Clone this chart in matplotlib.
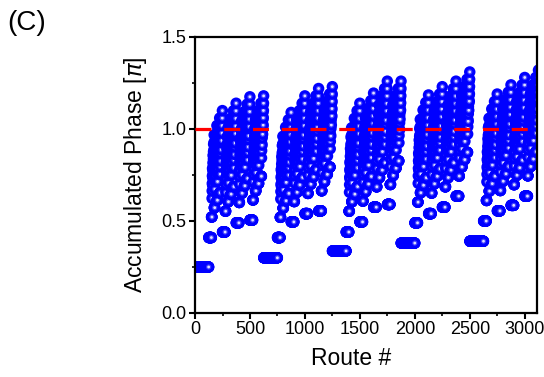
import numpy as np
import matplotlib.pyplot as plt
from matplotlib.ticker import MultipleLocator, FormatStrFormatter

plt.rcParams['font.family'] = ['Liberation Sans', 'DejaVu Sans']

# 5 групп по 625 маршрутов (5^5 = 3125)
n_groups = 5
group_size = 625
# плоский участок в начале каждой группы
flat_phase = [0.25, 0.30, 0.337, 0.38, 0.39]
# нижняя точка каждой подгруппы (4 подгруппы в группе)
low_phase = [[0.41, 0.44, 0.49, 0.505],
             [0.41, 0.495, 0.54, 0.555],
             [0.44, 0.495, 0.575, 0.59],
             [0.49, 0.54, 0.575, 0.635],
             [0.50, 0.555, 0.585, 0.635]]
# верх каждой подгруппы
top_phase = [[1.10, 1.14, 1.175, 1.18],
             [1.09, 1.18, 1.22, 1.23],
             [1.14, 1.195, 1.26, 1.26],
             [1.185, 1.23, 1.26, 1.31],
             [1.19, 1.24, 1.28, 1.32]]
# шаги внутри подгруппы (доли диапазона)
step3 = [0.0, 0.11, 0.16, 0.20, 0.24]
step4 = [0.0, 0.10, 0.17, 0.23, 0.28]
step5 = [0.0, 0.04, 0.08, 0.12, 0.16]

routes = np.arange(n_groups * group_size)
phase = np.zeros(len(routes))
full = step3[-1] + step4[-1] + step5[-1]
for r in routes:
    c, rest = divmod(r, group_size)
    j, rest = divmod(rest, 125)
    d3, rest = divmod(rest, 25)
    d4, d5 = divmod(rest, 5)
    if j == 0:
        p = flat_phase[c]
    else:
        lo = low_phase[c][j - 1]
        k = (top_phase[c][j - 1] - lo) / full
        p = lo
        if d3:
            p += k * step3[d3]
            if d4:
                p += k * (step4[d4] + step5[d5])
    phase[r] = p

fig = plt.figure(figsize=(5.44, 3.77), dpi=100)
ax = fig.add_axes([0.3585, 0.1698, 0.6285, 0.7321])

# "шарики": синий круг + блик, рисуем по точкам по очереди
xs = np.repeat(routes, 3)
ys = np.repeat(phase, 3)
sizes = np.tile([68, 14, 4], len(routes))
cols = np.tile(np.array([[0, 0, 1.0], [0.25, 0.25, 1.0], [0.88, 0.88, 1.0]]), (len(routes), 1))
ax.scatter(xs, ys, s=sizes, c=cols, linewidths=0, zorder=2)

ax.axhline(1.0, color='#ff0000', lw=2.3, dashes=(5, 4), zorder=3)

ax.set_xlim(0, 3110)
ax.set_ylim(0, 1.5)
ax.xaxis.set_major_locator(MultipleLocator(500))
ax.xaxis.set_minor_locator(MultipleLocator(250))
ax.yaxis.set_major_locator(MultipleLocator(0.5))
ax.yaxis.set_minor_locator(MultipleLocator(0.25))
ax.yaxis.set_major_formatter(FormatStrFormatter('%.1f'))
ax.tick_params(which='major', length=4, width=1.5, labelsize=13, pad=2)
ax.tick_params(which='minor', length=2.5, width=1.2)
for s in ax.spines.values():
    s.set_linewidth(1.6)

ax.set_xlabel('Route #', fontsize=16.5)
ax.set_ylabel(r'Accumulated Phase [$\pi$]', fontsize=16.5)
ax.xaxis.set_label_coords(0.456, -0.125)
ax.yaxis.set_label_coords(-0.135, 0.5)
fig.text(0.014, 0.94, '(C)', fontsize=20, va='center')

fig.savefig('out.png', dpi=100)
